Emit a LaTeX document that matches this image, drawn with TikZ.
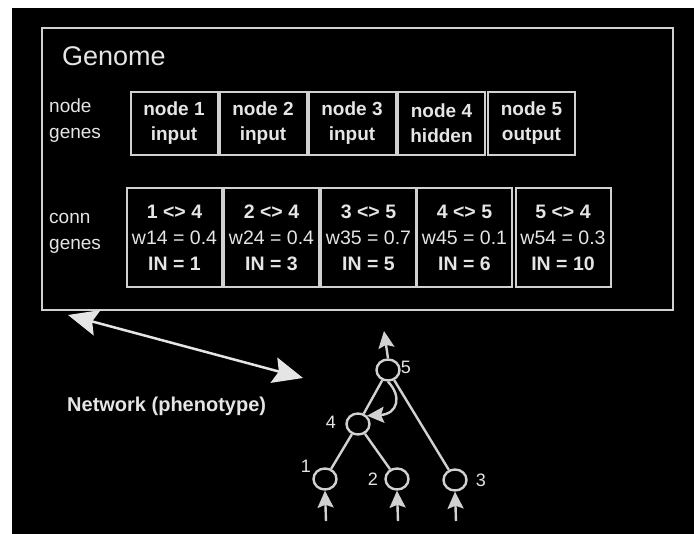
\documentclass[tikz,border=0pt]{standalone}
\usepackage{fontspec}
\setmainfont{Liberation Sans}
\usetikzlibrary{arrows.meta,shapes.geometric}
\definecolor{ink}{gray}{0.9}
\definecolor{rule}{gray}{0.82}
\begin{document}
\begin{tikzpicture}[x=1pt,y=-1pt,
  box/.style={draw=rule, line width=2pt, inner sep=0pt, align=center, text=ink},
  nodegene/.style={box, minimum width=87pt, minimum height=63pt,
    font=\fontsize{19}{25}\selectfont\bfseries},
  conngene/.style={box, minimum width=95pt, minimum height=99pt,
    font=\fontsize{19.5}{26}\selectfont},
  sidelabel/.style={text=ink, anchor=west, align=left, inner sep=0pt,
    font=\fontsize{19}{26}\selectfont},
  neuron/.style={ellipse, draw=rule, line width=2.4pt, minimum width=23pt,
    minimum height=21pt, inner sep=0pt},
  num/.style={text=ink, inner sep=0pt, font=\fontsize{18}{18}\selectfont},
  link/.style={draw=rule, line width=2.4pt},
  smallarrow/.style={link, -{Stealth[length=17pt,width=16pt,inset=3pt]}},
  bigarrow/.style={draw=ink, line width=2.5pt,
    {Stealth[length=30pt,width=26pt,inset=5pt]}-{Stealth[length=30pt,width=26pt,inset=5pt]}}
]
% page and dark panel
\fill[white] (0,0) rectangle (694,534);
\fill[black] (12,8) rectangle (694,534);

% genome frame
\node[draw=rule, line width=2pt, minimum width=631pt, minimum height=282pt,
  inner sep=0pt] (genome) at (357.5,169) {};
\node[text=ink, anchor=west, inner sep=0pt, font=\fontsize{27}{27}\selectfont]
  (title) at (62,56) {Genome};

% node genes
\node[sidelabel] (nlab) at (49,121) {node\\genes};
\node[nodegene] (g1) at (174,123.5) {node 1\\input};
\node[nodegene] (g2) at (263,123.5) {node 2\\input};
\node[nodegene] (g3) at (352,123.5) {node 3\\input};
\node[nodegene] (g4) at (441.5,123.5) {node 4\\hidden};
\node[nodegene] (g5) at (531.5,123.5) {node 5\\output};

% connection genes
\node[sidelabel] (clab) at (49,233.5) {conn\\genes};
\node[conngene] (c1) at (174.5,237.5) {\textbf{1 <> 4}\\w14 = 0.4\\\textbf{IN = 1}};
\node[conngene] (c2) at (271.5,237.5) {\textbf{2 <> 4}\\w24 = 0.4\\\textbf{IN = 3}};
\node[conngene] (c3) at (368.5,237.5) {\textbf{3 <> 5}\\w35 = 0.7\\\textbf{IN = 5}};
\node[conngene] (c4) at (464.5,237.5) {\textbf{4 <> 5}\\w45 = 0.1\\\textbf{IN = 6}};
\node[conngene] (c5) at (563,237.5) {\textbf{5 <> 4}\\w54 = 0.3\\\textbf{IN = 10}};

% genotype <-> phenotype
\coordinate (ga) at (68,315);
\coordinate (gb) at (303,378);
\draw[bigarrow] (ga) -- (gb);
\node[text=ink, anchor=west, inner sep=0pt,
  font=\fontsize{20}{20}\selectfont\bfseries] (net) at (67,406) {Network (phenotype)};

% network
\node[neuron] (n5) at (388,370) {};
\node[neuron] (n4) at (358,424) {};
\node[neuron] (n1) at (325,479) {};
\node[neuron] (n2) at (397,479) {};
\node[neuron] (n3) at (455,480) {};

\node[num] (l5) at (406,367) {5};
\node[num] (l4) at (331,422) {4};
\node[num] (l1) at (306,466) {1};
\node[num] (l2) at (373,479) {2};
\node[num] (l3) at (481,480) {3};

\draw[link] (n5) -- (n4);
\draw[link] (n5) -- (n3);
\draw[link] (n4) -- (n1);
\draw[link] (n4) -- (n2);

% recurrent connection 5 -> 4
\draw[smallarrow] (n5.south) .. controls (402,396) and (398,414) .. (n4.north east);

% output and inputs
\coordinate (out) at (384,331);
\draw[smallarrow] (n5.north) -- (out);
\coordinate (i1) at (326,521);
\coordinate (i2) at (398,521);
\coordinate (i3) at (456,521);
\draw[smallarrow] (i1) -- (n1.south);
\draw[smallarrow] (i2) -- (n2.south);
\draw[smallarrow] (i3) -- (n3.south);
\end{tikzpicture}
\end{document}
